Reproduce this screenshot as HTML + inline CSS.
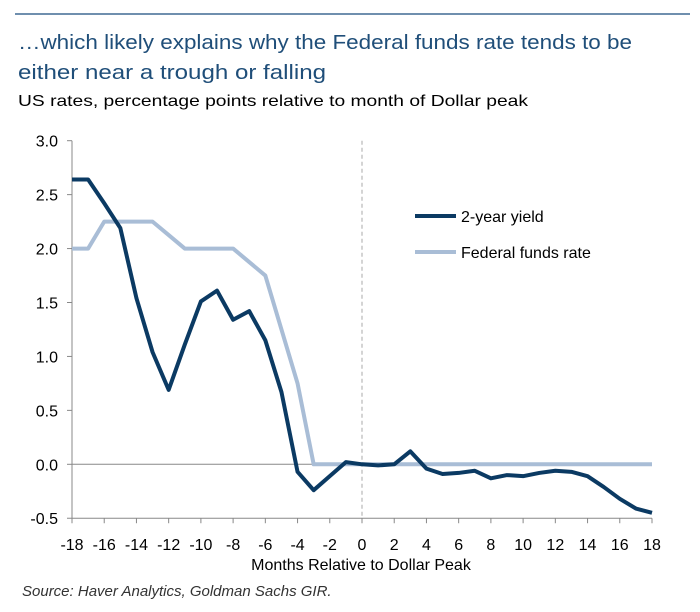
<!DOCTYPE html>
<html><head><meta charset="utf-8"><style>
body{margin:0;background:#fff;}
svg{display:block;font-family:"Liberation Sans",sans-serif;}
</style></head><body>
<svg width="700" height="612" viewBox="0 0 700 612">
<line x1="15" y1="14" x2="690" y2="14" stroke="#6f8fae" stroke-width="2"/>
<text x="18" y="49" font-size="20" fill="#1f4e79" textLength="614" lengthAdjust="spacingAndGlyphs">…which likely explains why the Federal funds rate tends to be</text>
<text x="18" y="79" font-size="20" fill="#1f4e79" textLength="308" lengthAdjust="spacingAndGlyphs">either near a trough or falling</text>
<text x="18" y="106" font-size="16" fill="#000" textLength="510" lengthAdjust="spacingAndGlyphs">US rates, percentage points relative to month of Dollar peak</text>
<g id="plot"></g>
<text x="361" y="570" font-size="16" text-anchor="middle" fill="#000">Months Relative to Dollar Peak</text>
<text x="22" y="596" font-size="15" font-style="italic" fill="#333">Source: Haver Analytics, Goldman Sachs GIR.</text>
<g>
<line x1="415" y1="216" x2="456" y2="216" stroke="#0b3a63" stroke-width="4"/>
<text x="461" y="222" font-size="16">2-year yield</text>
<line x1="415" y1="252" x2="456" y2="252" stroke="#a9bdd6" stroke-width="4"/>
<text x="461" y="258" font-size="16">Federal funds rate</text>
</g>
</svg>
<script>
const months=[-18,-17,-16,-15,-14,-13,-12,-11,-10,-9,-8,-7,-6,-5,-4,-3,-2,-1,0,1,2,3,4,5,6,7,8,9,10,11,12,13,14,15,16,17,18];
const twoYear=[2.64,2.64,2.42,2.19,1.54,1.04,0.69,1.11,1.51,1.61,1.34,1.42,1.15,0.67,-0.07,-0.24,-0.11,0.02,0.0,-0.01,0.0,0.12,-0.04,-0.09,-0.08,-0.06,-0.13,-0.10,-0.11,-0.08,-0.06,-0.07,-0.11,-0.21,-0.32,-0.41,-0.45];
const fedFunds=[2.0,2.0,2.25,2.25,2.25,2.25,2.125,2.0,2.0,2.0,2.0,1.875,1.75,1.25,0.75,0,0,0,0,0,0,0,0,0,0,0,0,0,0,0,0,0,0,0,0,0,0];
const yTicks=[3.0,2.5,2.0,1.5,1.0,0.5,0.0,-0.5];
const xTicks=[-18,-16,-14,-12,-10,-8,-6,-4,-2,0,2,4,6,8,10,12,14,16,18];
const NS="http://www.w3.org/2000/svg";
const X=m=>72+(m+18)*(652-72)/36;
const Y=v=>464.3-v*(464.3-140.7)/3;
const g=document.getElementById('plot');
function mk(t,a){const e=document.createElementNS(NS,t);for(const k in a)e.setAttribute(k,a[k]);g.appendChild(e);return e;}
let e;
e=mk('line',{x1:72,y1:Y(3),x2:72,y2:Y(-0.5),stroke:'#888','stroke-width':1});


e=mk('line',{x1:72,y1:Y(-0.5),x2:652,y2:Y(-0.5),stroke:'#888','stroke-width':1});


e=mk('line',{x1:72,y1:Y(0),x2:652,y2:Y(0),stroke:'#888','stroke-width':1});


e=mk('line',{x1:X(0),y1:Y(3),x2:X(0),y2:Y(-0.5),stroke:'#aaa','stroke-width':1,'stroke-dasharray':'4,3'});


yTicks.forEach(v=>{
 e=mk('line',{x1:67,y1:Y(v),x2:72,y2:Y(v),stroke:'#888'});
 
 
 e=mk('text',{x:58,y:Y(v)+6,'font-size':16,'text-anchor':'end'});e.textContent=v.toFixed(1);
 
 
});
xTicks.forEach(m=>{
 e=mk('line',{x1:X(m),y1:Y(-0.5),x2:X(m),y2:Y(-0.5)+5,stroke:'#888'});
 
 
 e=mk('text',{x:X(m),y:550,'font-size':16,'text-anchor':'middle'});e.textContent=m;
 
 
});
e=mk('polyline',{points:months.map((m,i)=>X(m)+','+Y(fedFunds[i])).join(' '),fill:'none',stroke:'#a9bdd6','stroke-width':4,'stroke-linejoin':'round'});


e=mk('polyline',{points:months.map((m,i)=>X(m)+','+Y(twoYear[i])).join(' '),fill:'none',stroke:'#0b3a63','stroke-width':4,'stroke-linejoin':'round'});


</script>
</body></html>
